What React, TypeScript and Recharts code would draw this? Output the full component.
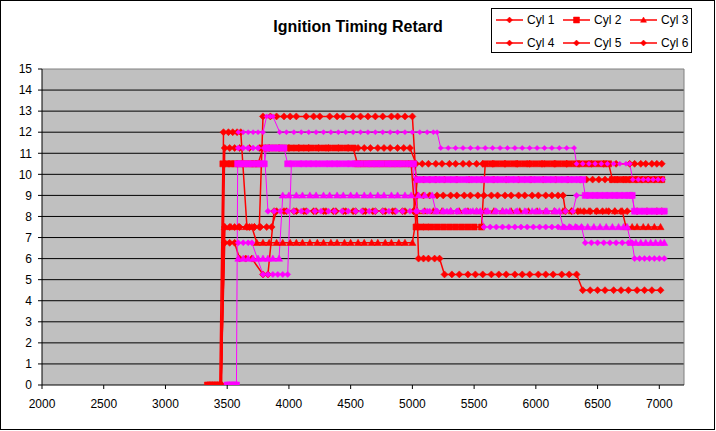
import React from 'react';
import { LineChart, Line, XAxis, YAxis, CartesianGrid, ReferenceLine } from 'recharts';

type Pt = [number, number];

const xTicks = [2000, 2500, 3000, 3500, 4000, 4500, 5000, 5500, 6000, 6500, 7000];
const yTicks = [0, 1, 2, 3, 4, 5, 6, 7, 8, 9, 10, 11, 12, 13, 14, 15];
const gridValues = [1, 2, 3, 4, 5, 6, 7, 8, 9, 10, 11, 12, 13, 14];
const legendNames = ['Cyl 1', 'Cyl 2', 'Cyl 3', 'Cyl 4', 'Cyl 5', 'Cyl 6'];

const cyl1: Pt[] = [[3440,0],[3455,0],[3470,12],[3510,12],[3545,12],[3580,12],[3610,12],[3660,7.5],[3720,7.5],[3760,7.5],[3790,12.75],[3850,12.75],[3900,12.75],[3960,12.75],[4010,12.75],[4060,12.75],[4140,12.75],[4200,12.75],[4250,12.75],[4330,12.75],[4390,12.75],[4440,12.75],[4520,12.75],[4580,12.75],[4640,12.75],[4700,12.75],[4760,12.75],[4830,12.75],[4880,12.75],[4940,12.75],[5000,12.75],[5030,9.75],[5050,6],[5090,6],[5130,6],[5180,6],[5220,6],[5260,5.25],[5320,5.25],[5380,5.25],[5450,5.25],[5510,5.25],[5570,5.25],[5640,5.25],[5700,5.25],[5760,5.25],[5830,5.25],[5890,5.25],[5950,5.25],[6020,5.25],[6080,5.25],[6140,5.25],[6210,5.25],[6270,5.25],[6330,5.25],[6380,4.5],[6440,4.5],[6500,4.5],[6560,4.5],[6630,4.5],[6690,4.5],[6750,4.5],[6820,4.5],[6880,4.5],[6940,4.5],[7010,4.5]];

const cyl2: Pt[] = [[3340,0],[3360,0],[3380,0],[3400,0],[3420,0],[3440,0],[3465,10.5],[3500,10.5],[3530,10.5],[3560,10.5],[3600,10.5],[3640,10.5],[3690,10.5],[3720,10.5],[3750,10.5],[3790,11.25],[3830,11.25],[3880,11.25],[3930,11.25],[3980,11.25],[4020,11.25],[4060,11.25],[4100,11.25],[4140,11.25],[4180,11.25],[4230,11.25],[4280,11.25],[4320,11.25],[4370,11.25],[4420,11.25],[4470,11.25],[4520,11.25],[4555,10.5],[4600,10.5],[4650,10.5],[4700,10.5],[4750,10.5],[4800,10.5],[4850,10.5],[4900,10.5],[4950,10.5],[4990,10.5],[5030,7.5],[5070,7.5],[5110,7.5],[5150,7.5],[5200,7.5],[5250,7.5],[5300,7.5],[5350,7.5],[5400,7.5],[5450,7.5],[5500,7.5],[5560,7.5],[5590,10.5],[5640,10.5],[5680,10.5],[5730,10.5],[5770,10.5],[5820,10.5],[5860,10.5],[5910,10.5],[5950,10.5],[6000,10.5],[6050,10.5],[6090,10.5],[6140,10.5],[6180,10.5],[6230,10.5],[6270,10.5],[6320,10.5],[6360,10.5],[6410,10.5],[6450,10.5],[6500,10.5],[6550,10.5],[6590,10.5],[6620,9.75],[6660,9.75],[6710,9.75],[6750,9.75],[6800,9.75],[6840,9.75],[6890,9.75],[6930,9.75],[6980,9.75],[7020,9.75]];

const cyl3: Pt[] = [[3450,0],[3480,7.5],[3530,7.5],[3590,7.5],[3650,7.5],[3700,7.5],[3740,6.75],[3790,6.75],[3840,6.75],[3900,6.75],[3950,6.75],[4010,6.75],[4060,6.75],[4110,6.75],[4170,6.75],[4230,6.75],[4280,6.75],[4340,6.75],[4390,6.75],[4450,6.75],[4500,6.75],[4560,6.75],[4610,6.75],[4670,6.75],[4720,6.75],[4780,6.75],[4830,6.75],[4890,6.75],[4940,6.75],[5000,6.75],[5040,8.25],[5100,8.25],[5170,8.25],[5240,8.25],[5310,8.25],[5380,8.25],[5450,8.25],[5520,8.25],[5590,8.25],[5660,8.25],[5730,8.25],[5800,8.25],[5870,8.25],[5940,8.25],[6010,8.25],[6080,8.25],[6150,8.25],[6220,8.25],[6290,8.25],[6360,8.25],[6430,8.25],[6500,8.25],[6570,8.25],[6640,8.25],[6700,8.25],[6730,7.5],[6780,7.5],[6820,7.5],[6870,7.5],[6910,7.5],[6960,7.5],[7010,7.5]];

const cyl4: Pt[] = [[3450,0],[3480,11.25],[3520,11.25],[3560,11.25],[3600,11.25],[3680,11.25],[3760,11.25],[3840,11.25],[3920,11.25],[4000,11.25],[4080,11.25],[4160,11.25],[4240,11.25],[4320,11.25],[4400,11.25],[4480,11.25],[4560,11.25],[4610,11.25],[4660,11.25],[4720,11.25],[4770,11.25],[4820,11.25],[4880,11.25],[4930,11.25],[4980,11.25],[5030,10.5],[5080,10.5],[5130,10.5],[5190,10.5],[5240,10.5],[5300,10.5],[5350,10.5],[5410,10.5],[5460,10.5],[5520,10.5],[5570,10.5],[5650,10.5],[5750,10.5],[5850,10.5],[5950,10.5],[6050,10.5],[6150,10.5],[6250,10.5],[6350,10.5],[6450,10.5],[6550,10.5],[6650,10.5],[6760,10.5],[6800,10.5],[6850,10.5],[6890,10.5],[6940,10.5],[6980,10.5],[7020,10.5]];

const cyl5: Pt[] = [[3450,0],[3480,7.5],[3520,7.5],[3560,7.5],[3600,7.5],[3680,7.5],[3720,7.5],[3770,7.5],[3820,7.5],[3860,7.5],[3900,8.25],[3980,8.25],[4060,8.25],[4140,8.25],[4220,8.25],[4300,8.25],[4380,8.25],[4460,8.25],[4540,8.25],[4620,8.25],[4700,8.25],[4780,8.25],[4860,8.25],[4940,8.25],[5010,8.25],[5040,9],[5090,9],[5140,9],[5200,9],[5250,9],[5310,9],[5360,9],[5420,9],[5470,9],[5530,9],[5580,9],[5640,9],[5690,9],[5750,9],[5800,9],[5860,9],[5910,9],[5970,9],[6020,9],[6080,9],[6130,9],[6180,9],[6220,9],[6240,8.25],[6290,8.25],[6340,8.25],[6390,8.25],[6440,8.25],[6490,8.25],[6540,8.25],[6590,8.25],[6640,8.25],[6690,8.25],[6740,8.25],[6820,8.25],[6900,8.25],[6980,8.25],[7020,8.25]];

const cyl6: Pt[] = [[3450,0],[3480,6.75],[3520,6.75],[3560,6.75],[3600,6],[3650,6],[3700,6],[3790,5.25],[3830,5.25],[3880,8.25],[3960,8.25],[4040,8.25],[4120,8.25],[4200,8.25],[4280,8.25],[4360,8.25],[4440,8.25],[4520,8.25],[4600,8.25],[4680,8.25],[4760,8.25],[4840,8.25],[4920,8.25],[5010,8.25],[5040,9.75],[5090,9.75],[5140,9.75],[5190,9.75],[5260,9.75],[5360,9.75],[5460,9.75],[5560,9.75],[5660,9.75],[5760,9.75],[5860,9.75],[5960,9.75],[6060,9.75],[6160,9.75],[6260,9.75],[6360,9.75],[6410,9.75],[6460,9.75],[6510,9.75],[6560,9.75],[6610,9.75],[6660,9.75],[6710,9.75],[6760,9.75],[6810,9.75],[6860,9.75],[6910,9.75],[6960,9.75],[7020,9.75]];

const run2a: Pt[] = [[3590,12],[3630,12],[3670,12],[3710,12],[3750,12],[3790,12],[3820,12.75],[3850,12.75],[3870,12.75],[3925,12],[3980,12],[4040,12],[4100,12],[4160,12],[4220,12],[4280,12],[4340,12],[4400,12],[4460,12],[4520,12],[4580,12],[4640,12],[4700,12],[4760,12],[4820,12],[4880,12],[4940,12],[5000,12],[5060,12],[5120,12],[5170,12],[5200,12],[5230,11.25],[5290,11.25],[5350,11.25],[5410,11.25],[5470,11.25],[5530,11.25],[5590,11.25],[5650,11.25],[5710,11.25],[5770,11.25],[5830,11.25],[5890,11.25],[5950,11.25],[6010,11.25],[6070,11.25],[6130,11.25],[6190,11.25],[6250,11.25],[6310,11.25],[6330,10.5],[6380,10.5],[6430,10.5],[6480,10.5],[6530,10.5],[6580,10.5],[6630,10.5],[6680,10.5],[6730,10.5],[6760,10.5],[6785,9.75],[6830,9.75],[6870,9.75],[6910,9.75],[6950,9.75],[6990,9.75],[7030,9.75]];

const run2b: Pt[] = [[3500,0],[3520,0],[3540,0],[3560,0],[3575,0],[3585,10.5],[3610,10.5],[3640,10.5],[3670,10.5],[3700,10.5],[3740,10.5],[3770,10.5],[3800,10.5],[3820,11.25],[3850,11.25],[3880,11.25],[3910,11.25],[3940,11.25],[3960,11.25],[3990,10.5],[4030,10.5],[4080,10.5],[4120,10.5],[4160,10.5],[4200,10.5],[4240,10.5],[4290,10.5],[4330,10.5],[4370,10.5],[4410,10.5],[4460,10.5],[4500,10.5],[4540,10.5],[4580,10.5],[4630,10.5],[4670,10.5],[4710,10.5],[4750,10.5],[4800,10.5],[4840,10.5],[4880,10.5],[4920,10.5],[4970,10.5],[5010,10.5],[5040,9.75],[5080,9.75],[5120,9.75],[5160,9.75],[5200,9.75],[5240,9.75],[5290,9.75],[5330,9.75],[5370,9.75],[5420,9.75],[5460,9.75],[5500,9.75],[5540,9.75],[5590,9.75],[5630,9.75],[5670,9.75],[5710,9.75],[5760,9.75],[5800,9.75],[5840,9.75],[5890,9.75],[5930,9.75],[5970,9.75],[6010,9.75],[6060,9.75],[6100,9.75],[6140,9.75],[6190,9.75],[6230,9.75],[6270,9.75],[6310,9.75],[6350,9.75],[6380,9.75],[6400,9],[6440,9],[6480,9],[6520,9],[6560,9],[6600,9],[6640,9],[6680,9],[6720,9],[6760,9],[6780,9],[6800,8.25],[6840,8.25],[6880,8.25],[6920,8.25],[6960,8.25],[7000,8.25],[7040,8.25]];

const run2c: Pt[] = [[3590,6],[3630,6],[3670,6],[3710,6],[3750,6],[3790,6],[3830,6],[3870,6],[3920,6],[3950,9],[4000,9],[4060,9],[4110,9],[4170,9],[4220,9],[4280,9],[4330,9],[4390,9],[4440,9],[4500,9],[4550,9],[4610,9],[4660,9],[4720,9],[4770,9],[4830,9],[4880,9],[4940,9],[4990,9],[5050,9],[5100,9],[5160,9],[5190,8.25],[5250,8.25],[5310,8.25],[5370,8.25],[5430,8.25],[5490,8.25],[5550,8.25],[5610,8.25],[5670,8.25],[5730,8.25],[5790,8.25],[5850,8.25],[5910,8.25],[5970,8.25],[6030,8.25],[6090,8.25],[6150,8.25],[6190,8.25],[6220,7.5],[6270,7.5],[6320,7.5],[6370,7.5],[6420,7.5],[6470,7.5],[6520,7.5],[6570,7.5],[6620,7.5],[6670,7.5],[6710,7.5],[6740,7.5],[6770,6.75],[6810,6.75],[6850,6.75],[6890,6.75],[6930,6.75],[6970,6.75],[7010,6.75],[7040,6.75]];

const run2d: Pt[] = [[3590,11.25],[3630,11.25],[3670,11.25],[3710,11.25],[3750,11.25],[3800,11.25],[3830,8.25],[3880,8.25],[3930,8.25],[3990,8.25],[4040,8.25],[4100,8.25],[4150,8.25],[4210,8.25],[4260,8.25],[4320,8.25],[4370,8.25],[4430,8.25],[4480,8.25],[4540,8.25],[4590,8.25],[4650,8.25],[4700,8.25],[4760,8.25],[4810,8.25],[4870,8.25],[4920,8.25],[4980,8.25],[5030,8.25],[5090,8.25],[5140,8.25],[5200,8.25],[5250,8.25],[5310,8.25],[5360,8.25],[5420,8.25],[5470,8.25],[5520,8.25],[5550,8.25],[5580,7.5],[5630,7.5],[5680,7.5],[5730,7.5],[5780,7.5],[5830,7.5],[5880,7.5],[5930,7.5],[5980,7.5],[6030,7.5],[6080,7.5],[6130,7.5],[6180,7.5],[6230,7.5],[6280,7.5],[6330,7.5],[6370,7.5],[6400,6.75],[6450,6.75],[6500,6.75],[6550,6.75],[6600,6.75],[6650,6.75],[6700,6.75],[6750,6.75],[6780,6.75],[6800,6],[6840,6],[6880,6],[6920,6],[6960,6],[7000,6],[7040,6]];

const run2e: Pt[] = [[3590,6.75],[3630,6.75],[3670,6.75],[3700,6.75],[3790,5.25],[3830,5.25],[3870,5.25],[3910,5.25],[3950,5.25],[3990,5.25],[4020,10.5],[4090,10.5],[4170,10.5],[4250,10.5],[4330,10.5],[4410,10.5],[4490,10.5],[4570,10.5],[4650,10.5],[4730,10.5],[4810,10.5],[4890,10.5],[4960,10.5],[5000,10.5],[5040,8.25],[5120,8.25],[5200,8.25],[5280,8.25],[5360,8.25],[5440,8.25],[5520,8.25],[5600,8.25],[5680,8.25],[5760,8.25],[5840,8.25],[5920,8.25],[6000,8.25],[6080,8.25],[6160,8.25],[6240,8.25],[6300,8.25],[6330,9],[6410,9],[6490,9],[6570,9],[6650,9],[6730,9],[6780,9],[6800,8.25],[6880,8.25],[6960,8.25],[7040,8.25]];

const RED = '#FF0000';
const MAGENTA = '#FF00FF';
const FONT = "Arial, 'Liberation Sans', sans-serif";

type Shape = 'diamond' | 'square' | 'triangle';

function markerPath(shape: Shape, cx: number, cy: number, r: number): string {
  if (shape === 'square') return `M${cx - r},${cy - r}h${2 * r}v${2 * r}h${-2 * r}Z`;
  if (shape === 'triangle') return `M${cx},${cy - r}L${cx + r},${cy + r * 0.75}L${cx - r},${cy + r * 0.75}Z`;
  return `M${cx},${cy - r}L${cx + r},${cy}L${cx},${cy + r}L${cx - r},${cy}Z`;
}

const makeDot = (id: string, shape: Shape, color: string, r: number) => (props: any) => {
  const { cx, cy, index } = props;
  if (cx == null || cy == null) return <g key={`${id}-${index}`} />;
  return <path key={`${id}-${index}`} d={markerPath(shape, cx, cy, r)} fill={color} stroke={color} strokeWidth={0.6} />;
};

const series = [
  { id: 'c1', data: cyl1, color: RED, shape: 'diamond' as Shape, r: 3.5, w: 1.5 },
  { id: 'c6', data: cyl6, color: RED, shape: 'diamond' as Shape, r: 3.5, w: 1.5 },
  { id: 'c5', data: cyl5, color: RED, shape: 'diamond' as Shape, r: 3.5, w: 1.5 },
  { id: 'c4', data: cyl4, color: RED, shape: 'diamond' as Shape, r: 3.5, w: 1.5 },
  { id: 'c3', data: cyl3, color: RED, shape: 'triangle' as Shape, r: 3.5, w: 1.5 },
  { id: 'c2', data: cyl2, color: RED, shape: 'square' as Shape, r: 3, w: 1.5 },
  { id: 'r2e', data: run2e, color: MAGENTA, shape: 'diamond' as Shape, r: 3, w: 1 },
  { id: 'r2d', data: run2d, color: MAGENTA, shape: 'diamond' as Shape, r: 3, w: 1 },
  { id: 'r2c', data: run2c, color: MAGENTA, shape: 'triangle' as Shape, r: 3.5, w: 1 },
  { id: 'r2a', data: run2a, color: MAGENTA, shape: 'diamond' as Shape, r: 2.5, w: 1 },
  { id: 'r2b', data: run2b, color: MAGENTA, shape: 'square' as Shape, r: 3, w: 1 },
];

const legendShapes: Shape[] = ['diamond', 'square', 'triangle', 'diamond', 'diamond', 'diamond'];

function LegendIcon({ shape }: { shape: Shape }) {
  return (
    <svg width={27} height={8} style={{ display: 'block' }}>
      <line x1={0} y1={4} x2={27} y2={4} stroke={RED} strokeWidth={1.5} />
      <path d={markerPath(shape, 13.5, 4, 3)} fill={RED} stroke={RED} strokeWidth={0.5} />
    </svg>
  );
}

export default function App() {
  const cols = [495, 562, 629];
  const rows = [15, 38];
  return (
    <div style={{ position: 'absolute', left: 0, top: 0, width: 716, height: 431, background: '#fff', fontFamily: FONT }}>
      <div style={{ position: 'absolute', left: 0, top: 0, width: 715, height: 430, border: '1px solid #000', boxSizing: 'border-box' }} />
      <LineChart width={716} height={431} margin={{ top: 69, right: 32, left: 12, bottom: 16 }}>
        <CartesianGrid vertical={false} stroke="#000" fill="#C0C0C0" horizontalValues={gridValues} />
        <XAxis
          type="number"
          dataKey="x"
          domain={[2000, 7200]}
          ticks={xTicks}
          interval={0}
          allowDataOverflow
          height={30}
          stroke="#000"
          tickSize={4}
          tickMargin={10}
          tick={{ fill: '#000', fontSize: 12, fontFamily: FONT }}
        />
        <YAxis
          type="number"
          dataKey="y"
          domain={[0, 15]}
          ticks={yTicks}
          interval={0}
          allowDataOverflow
          width={30}
          stroke="#000"
          tickSize={4}
          tickMargin={6}
          tick={{ fill: '#000', fontSize: 12, fontFamily: FONT }}
        />
        <ReferenceLine y={15} stroke="#808080" />
        <ReferenceLine x={7200} stroke="#808080" />
        {series.map((s) => (
          <Line
            key={s.id}
            data={s.data.map(([x, y]) => ({ x, y }))}
            dataKey="y"
            type="linear"
            stroke={s.color}
            strokeWidth={s.w}
            dot={makeDot(s.id, s.shape, s.color, s.r)}
            activeDot={false}
            isAnimationActive={false}
            legendType="none"
          />
        ))}
      </LineChart>
      <div style={{ position: 'absolute', left: 0, width: 716, top: 18, textAlign: 'center', fontSize: 16, fontWeight: 'bold', color: '#000' }}>
        Ignition Timing Retard
      </div>
      <div style={{ position: 'absolute', left: 491, top: 8, width: 201, height: 45, border: '1px solid #000', background: '#fff', boxSizing: 'border-box' }}>
        {legendNames.map((name, i) => {
          const c = cols[i % 3] - 491;
          const r = rows[Math.floor(i / 3)] - 8;
          return (
            <div key={name} style={{ position: 'absolute', left: c, top: r, display: 'flex', alignItems: 'center', fontSize: 12, whiteSpace: 'nowrap', color: '#000' }}>
              <LegendIcon shape={legendShapes[i]} />
              <span style={{ marginLeft: 4, lineHeight: '8px' }}>{name}</span>
            </div>
          );
        })}
      </div>
    </div>
  );
}
